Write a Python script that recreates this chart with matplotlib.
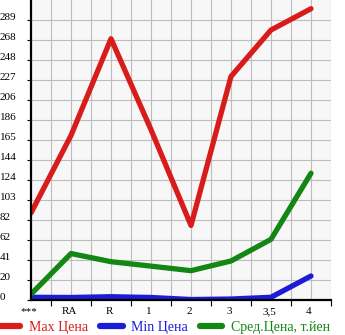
import numpy as np
import matplotlib
matplotlib.use("Agg")
import matplotlib.pyplot as plt
from matplotlib.transforms import ScaledTranslation

# данные графика
categories = ['***', 'RA', 'R', '1', '2', '3', '3,5', '4']
max_price = [90, 170, 270, 176, 77, 231, 279, 301]
min_price = [2.8, 2.6, 3.4, 2.6, 0.5, 1.0, 2.8, 24.8]
avg_price = [6, 48, 39.6, 35, 30.3, 40.3, 62.7, 131]
series_names = ['Max Цена', 'Min Цена', 'Сред.Цена, т.йен']
series_colors = ['#d81c1c', '#1c1cd8', '#138613']

y_top = 310
y_step = y_top / 15

plt.rcParams['font.family'] = ['Liberation Serif', 'DejaVu Serif']

fig = plt.figure(figsize=(3.45, 3.35), dpi=100)
ax = fig.add_axes([31 / 345, 35 / 335, 300 / 345, 300 / 335])
ax.set_facecolor('#f7f7f7')

x = np.arange(len(categories))
for vals, col in zip([max_price, min_price, avg_price], series_colors):
    ax.plot(x, vals, color=col, lw=3.8, solid_capstyle='round',
            solid_joinstyle='round', zorder=3)

ax.set_xlim(0, 7.5)
ax.set_ylim(0, y_top)

# сетка
for gx in np.arange(0.5, 7.51, 0.5):
    ax.axvline(gx, color='#bdbdbd', lw=0.8, zorder=1)
yticks = [y_step * k for k in range(15)]
for gy in yticks[1:]:
    ax.axhline(gy, color='#bdbdbd', lw=0.8, zorder=1)

for s in ['top', 'right']:
    ax.spines[s].set_visible(False)
for s in ['left', 'bottom']:
    ax.spines[s].set_linewidth(1.6)
    ax.spines[s].set_color('black')
    ax.spines[s].set_zorder(4)

# подписи оси X
ax.set_xticks(x)
ax.set_xticklabels(categories, fontsize=8)
ax.tick_params(axis='x', length=0, pad=5)
ax.set_xticks(np.arange(0.5, 7.6, 1.0), minor=True)
ax.tick_params(axis='x', which='minor', length=4, width=0.8, direction='out')
off = ScaledTranslation(-2 / 100, 0, fig.dpi_scale_trans)
for lab in ax.get_xticklabels():
    lab.set_transform(lab.get_transform() + off)

# подписи оси Y (выровнены по левому краю)
ax.set_yticks(yticks)
ax.set_yticklabels([])
ax.tick_params(axis='y', length=3, width=0.8, direction='out')
ytrans = ax.get_yaxis_transform()
for v in yticks:
    ax.text(-31 / 300, v, str(int(v)), transform=ytrans, ha='left',
            va='baseline', fontsize=8)

# легенда
handles = ax.get_lines()[:3]
leg = fig.legend(handles, series_names, loc='center left',
                 bbox_to_anchor=(-0.005, 8 / 335), ncol=3, frameon=False,
                 fontsize=10, handlelength=1.6, handletextpad=0.6,
                 columnspacing=0.9, borderpad=0, borderaxespad=0,
                 labelcolor='linecolor')
for h in leg.legend_handles:
    h.set_linewidth(4.5)

fig.savefig('out.png', dpi=100)
